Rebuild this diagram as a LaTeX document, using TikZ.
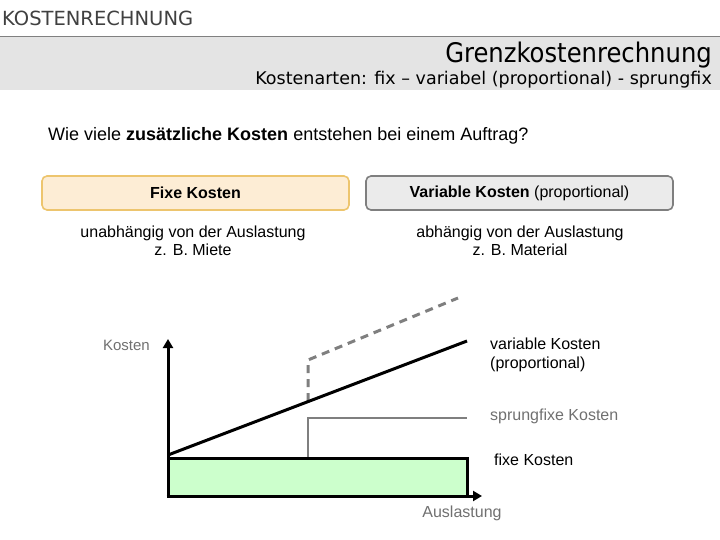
\documentclass[tikz,border=0pt]{standalone}
\usepackage{fontspec}
\setmainfont{Liberation Sans}
\newfontfamily\headfont{DejaVu Sans Condensed}
\newfontfamily\topfont{DejaVu Sans}
\usetikzlibrary{arrows.meta}
\definecolor{bandgray}{HTML}{E4E4E4}
\definecolor{fixfill}{HTML}{FDEDD5}
\definecolor{fixdraw}{HTML}{EDC56E}
\definecolor{varfill}{HTML}{EBEBEB}
\definecolor{vardraw}{HTML}{7F7F7F}
\definecolor{greenfill}{HTML}{CCFFCC}
\definecolor{txtgray}{HTML}{707070}
\tikzset{
  box/.style={rounded corners=5pt, line width=1.6pt, minimum width=307pt, minimum height=34pt, inner sep=0pt, font=\fontsize{16}{18}\selectfont},
  lbl/.style={font=\fontsize{16}{18}\selectfont, align=center, inner sep=0pt},
  glbl/.style={font=\fontsize{16}{19}\selectfont, align=left, inner sep=0pt, anchor=west},
  axis/.style={line width=3pt, -{Triangle[length=9pt,width=10pt]}},
}
\begin{document}
\begin{tikzpicture}[x=1pt,y=-1pt]
\useasboundingbox (0,0) rectangle (720,540);
% header
\node[anchor=west, inner sep=0pt, font=\topfont\fontsize{19.5}{20}\selectfont, text=black!75] (title) at (2,18) {KOSTENRECHNUNG};
\fill[bandgray] (0,37) rectangle (720,90);
\draw[gray, line width=1pt] (0,37) -- (720,37);
\node[anchor=east, inner sep=0pt, font=\headfont\fontsize{27}{27}\selectfont] (main) at (712,55) {Grenzkostenrechnung};
\node[anchor=east, inner sep=0pt, font=\topfont\fontsize{17.5}{18}\selectfont] (sub) at (712,80) {Kostenarten: fix – variabel (proportional) - sprungfix};
% question
\node[anchor=west, inner sep=0pt, font=\fontsize{18}{20}\selectfont] (q) at (48,136) {Wie viele \textbf{zusätzliche Kosten} entstehen bei einem Auftrag?};
% boxes
\node[box, draw=fixdraw, fill=fixfill] (fix) at (195.5,193) {\textbf{Fixe Kosten}};
\node[box, draw=vardraw, fill=varfill] (var) at (519.5,193) {\textbf{Variable Kosten} (proportional)};
\node[lbl] (fixtxt) at (193,241) {unabhängig von der Auslastung\\z. B. Miete};
\node[lbl] (vartxt) at (520,241) {abhängig von der Auslastung\\z. B. Material};
% graph
\coordinate (O) at (168,496);
\coordinate (Ytop) at (168,339);
\coordinate (Xend) at (482,496);
\coordinate (R1) at (168,458);
\coordinate (R2) at (467,496);
\coordinate (L0) at (168,455);
\coordinate (L1) at (467,341);
\coordinate (S0) at (308,458);
\coordinate (S1) at (308,418);
\coordinate (S2) at (467,418);
\coordinate (D0) at (308,401);
\coordinate (D1) at (308,360);
\coordinate (D2) at (458,298);
\fill[greenfill] (R1) rectangle (R2);
\draw[vardraw, line width=2pt] (S0) -- (S1) -- (S2);
\draw[vardraw, line width=3pt, dash pattern=on 8pt off 6pt] (D0) -- (D1) -- (D2);
\draw[line width=3pt] (L0) -- (L1);
\draw[line width=3pt] (R1) -- (R2 |- R1) -- (R2);
\draw[axis] (O) -- (Ytop);
\draw[axis] ([xshift=-1.5pt]O) -- (Xend);
\node[anchor=east, inner sep=0pt, font=\fontsize{15}{16}\selectfont, text=txtgray] (ylbl) at (150,345) {Kosten};
\node[anchor=north, inner sep=0pt, font=\fontsize{16}{16}\selectfont, text=txtgray] (xlbl) at (462,506) {Auslastung};
\node[glbl] (vlbl) at (490,355) {variable Kosten\\(proportional)};
\node[glbl, text=txtgray] (slbl) at (490,416) {sprungfixe Kosten};
\node[glbl] (flbl) at (494,460) {fixe Kosten};
\end{tikzpicture}
\end{document}
